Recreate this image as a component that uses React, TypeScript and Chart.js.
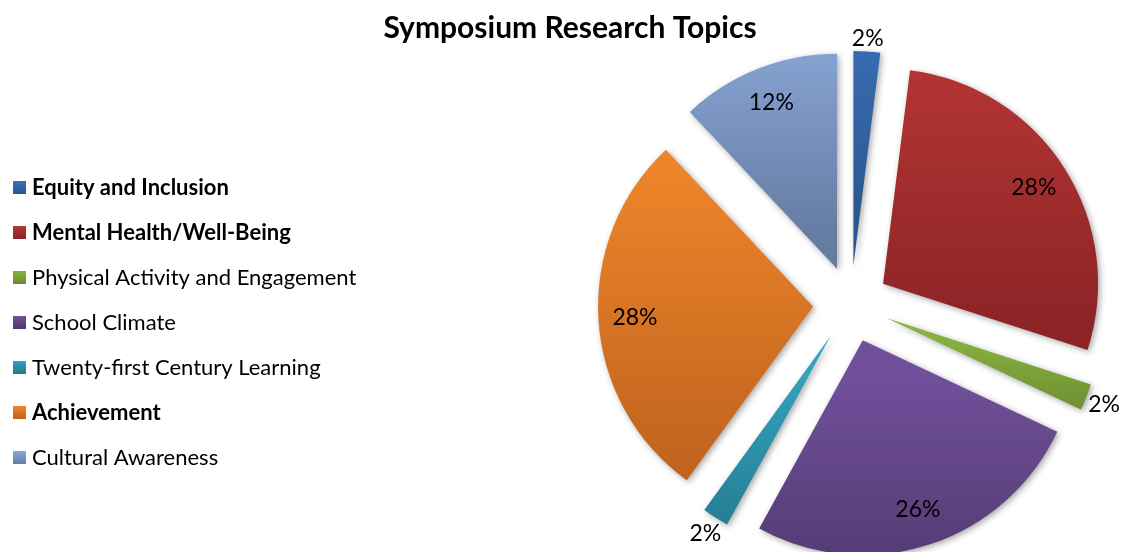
import React, { useEffect, useRef } from 'react';
import { Chart, registerables } from 'chart.js';

Chart.register(...registerables);

const TITLE = 'Symposium Research Topics';
const categories = [
  'Equity and Inclusion',
  'Mental Health/Well-Being',
  'Physical Activity and Engagement',
  'School Climate',
  'Twenty-first Century Learning',
  'Achievement',
  'Cultural Awareness',
];
const values = [2, 28, 2, 26, 2, 28, 12];
const boldLegend = [true, true, false, false, false, true, false];
const topColors = ['#3A70B8', '#B63634', '#88B340', '#70509A', '#33A3C0', '#F0862A', '#8CA9DA'];
const bottomColors = ['#2A568E', '#8C2326', '#6A8A2E', '#51386E', '#23768A', '#BE621E', '#667DA3'];

const FONT = 'Lato, "Open Sans", sans-serif';
const W = 1122;
const H = 552;
const EXPLODE = 38;
const RADIUS = 215;
const TITLE_SIZE = 30;
const LEGEND_SIZE = 22;
const LABEL_SIZE = 23;
const LEGEND_TOP = 187;
const LEGEND_STEP = 45;

function sliceGradient(ctx: CanvasRenderingContext2D, y0: number, y1: number, i: number) {
  const g = ctx.createLinearGradient(0, y0, 0, y1);
  g.addColorStop(0, topColors[i]);
  g.addColorStop(1, bottomColors[i]);
  return g;
}

const explodePlugin = {
  id: 'explodePie',
  beforeDatasetDraw(chart: any, args: any) {
    const ctx: CanvasRenderingContext2D = chart.ctx;
    args.meta.data.forEach((arc: any, i: number) => {
      const p = arc.getProps(['x', 'y', 'startAngle', 'endAngle', 'outerRadius'], true);
      const mid = (p.startAngle + p.endAngle) / 2;
      const dx = Math.cos(mid) * EXPLODE;
      const dy = Math.sin(mid) * EXPLODE;
      let minY = 0;
      let maxY = 0;
      for (let k = 0; k <= 60; k++) {
        const a = p.startAngle + ((p.endAngle - p.startAngle) * k) / 60;
        const yy = Math.sin(a) * p.outerRadius;
        minY = Math.min(minY, yy);
        maxY = Math.max(maxY, yy);
      }
      const cy = p.y + dy;
      const g = sliceGradient(ctx, cy + minY, cy + maxY, i);
      arc.options = Object.assign({}, arc.options, { backgroundColor: g, borderWidth: 0 });
      ctx.save();
      ctx.translate(dx, dy);
      ctx.shadowColor = 'rgba(0,0,0,0.35)';
      ctx.shadowBlur = 6;
      ctx.shadowOffsetX = 2;
      ctx.shadowOffsetY = 2;
      arc.draw(ctx);
      ctx.restore();
    });
    return false;
  },
  afterDatasetsDraw(chart: any) {
    const ctx: CanvasRenderingContext2D = chart.ctx;
    const meta = chart.getDatasetMeta(0);
    const total = values.reduce((a, b) => a + b, 0);
    ctx.save();
    ctx.font = `${LABEL_SIZE}px ${FONT}`;
    ctx.fillStyle = '#000';
    ctx.textAlign = 'center';
    ctx.textBaseline = 'middle';
    meta.data.forEach((arc: any, i: number) => {
      const p = arc.getProps(['x', 'y', 'startAngle', 'endAngle', 'outerRadius'], true);
      const mid = (p.startAngle + p.endAngle) / 2;
      const frac = values[i] / total;
      const text = Math.round(frac * 100) + '%';
      const w = ctx.measureText(text).width;
      let dist;
      if (frac >= 0.05) {
        dist = EXPLODE + p.outerRadius * 0.83;
      } else {
        const h = LABEL_SIZE * 0.75;
        dist = EXPLODE + p.outerRadius + 3 + (w / 2) * Math.abs(Math.cos(mid)) + (h / 2) * Math.abs(Math.sin(mid));
      }
      let x = p.x + Math.cos(mid) * dist;
      const y = p.y + Math.sin(mid) * dist;
      x = Math.min(x, chart.width - w / 2 - 2);
      ctx.fillText(text, x, y);
    });
    ctx.restore();
  },
  afterDraw(chart: any) {
    const ctx: CanvasRenderingContext2D = chart.ctx;
    ctx.save();
    ctx.fillStyle = '#000';
    ctx.textBaseline = 'middle';
    ctx.textAlign = 'center';
    ctx.font = `bold ${TITLE_SIZE}px ${FONT}`;
    ctx.fillText(TITLE, 570, 28);
    ctx.textAlign = 'left';
    categories.forEach((c, i) => {
      const y = LEGEND_TOP + i * LEGEND_STEP;
      const g = sliceGradient(ctx, y - 6, y + 7, i);
      ctx.fillStyle = g;
      ctx.fillRect(13, y - 6, 13, 13);
      ctx.fillStyle = '#000';
      ctx.font = `${boldLegend[i] ? 'bold ' : ''}${LEGEND_SIZE}px ${FONT}`;
      ctx.fillText(c, 32, y + 1);
    });
    ctx.restore();
  },
};

export default function App() {
  const ref = useRef<HTMLCanvasElement | null>(null);
  useEffect(() => {
    if (!ref.current) return;
    const chart = new Chart(ref.current, {
      type: 'pie',
      data: {
        labels: categories,
        datasets: [
          {
            data: values,
            backgroundColor: (c: any) => topColors[c.dataIndex],
            borderWidth: 0,
          },
        ],
      },
      options: {
        animation: false,
        responsive: false,
        devicePixelRatio: 1,
        radius: RADIUS,
        layout: { padding: { left: 580, right: 0, top: 56, bottom: 0 } },
        plugins: {
          legend: { display: false },
          title: { display: false },
          tooltip: { enabled: false },
        },
      } as any,
      plugins: [explodePlugin as any],
    });
    return () => chart.destroy();
  }, []);
  return (
    <div style={{ position: 'fixed', left: 0, top: 0, width: W, height: H, background: '#fff' }}>
      <canvas ref={ref} width={W} height={H} style={{ width: W, height: H }} />
    </div>
  );
}
